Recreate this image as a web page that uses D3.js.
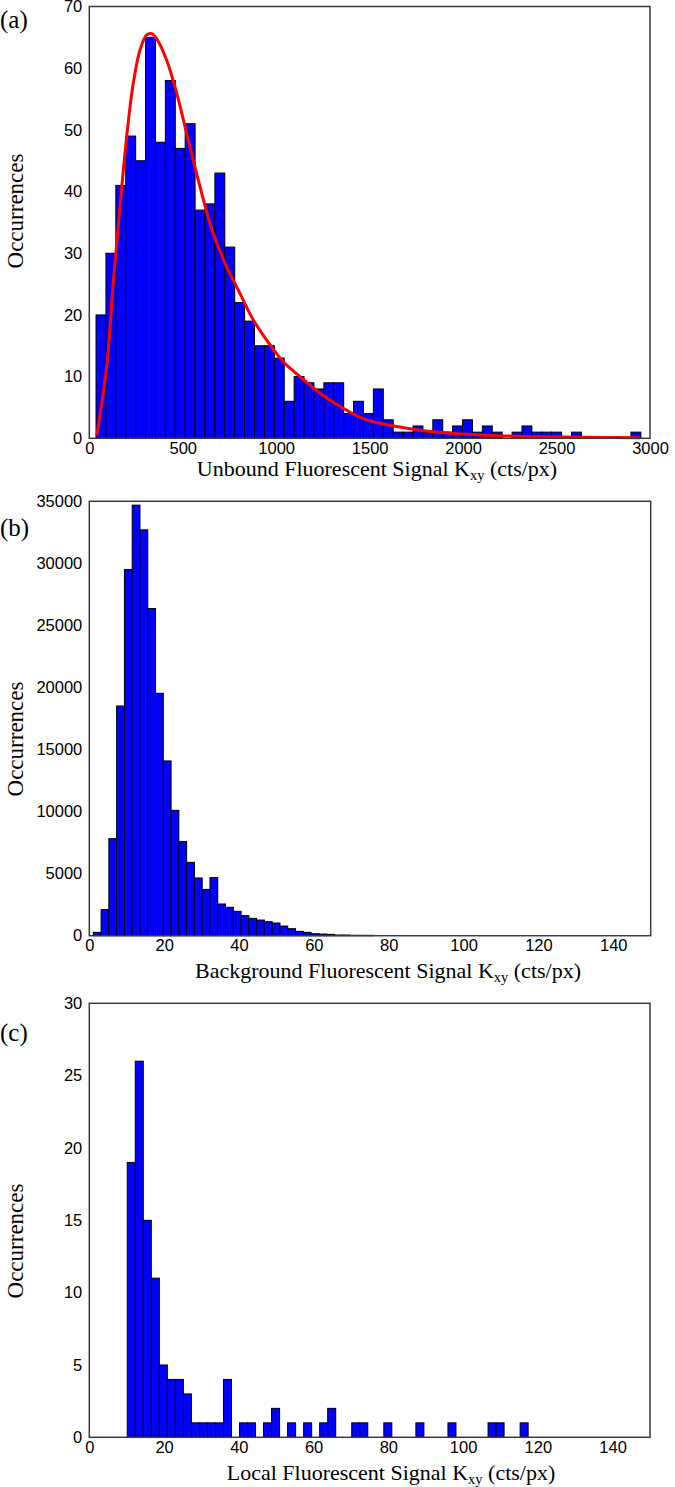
<!DOCTYPE html>
<html>
<head>
<meta charset="utf-8">
<script src="https://cdn.jsdelivr.net/npm/d3@7"></script>
<style>
  html, body { margin: 0; padding: 0; background: #fff; }
  svg { display: block; }
  .tick text { font-family: "Liberation Sans", Arial, sans-serif; font-size: 16.5px; fill: #000; }
  .title { font-family: "Liberation Serif", "Times New Roman", serif; fill: #000; }
</style>
</head>
<body>
<svg id="chart" width="675" height="1487"></svg>
<script>
// ---------- Panel (a): Unbound fluorescent signal ----------
const aBinStart = 36;
const aBinWidth = 53;
const aCounts = [20, 30, 41, 49, 45, 65, 48, 58, 47, 51, 37, 38, 43, 31, 22, 19, 15, 15, 13, 6,
                 10, 9, 8, 9, 9, 4, 6, 4, 8, 3, 1, 1, 2, 1, 3, 1, 2, 3, 1, 2,
                 1, 0, 1, 2, 1, 1, 1, 0, 1, 0, 0, 0, 0, 0, 1];
const aFitX = [40, 93, 128, 164, 200, 235, 271, 307, 334, 360, 414, 468, 521, 592, 663, 735,
               806, 877, 949, 1038, 1127, 1234, 1341, 1466, 1645, 1823, 2002, 2180, 2358, 2537, 2750, 2946];
const aFitY = [0.5, 11.6, 25.1, 37.5, 48.9, 57.5, 62.9, 65.4, 65.6, 64.8, 61.3, 55.9, 49.4, 40.8, 33.2, 27.8,
               23.5, 19.2, 15.9, 12.4, 10.0, 7.3, 5.2, 3.2, 1.9, 1.1, 0.7, 0.43, 0.27, 0.2, 0.15, 0.1];
const aXTicks = [0, 500, 1000, 1500, 2000, 2500, 3000];
const aYTicks = [0, 10, 20, 30, 40, 50, 60, 70];

// ---------- Panel (b): Background fluorescent signal ----------
const bBinStart = 1.07;
const bBinWidth = 2.078;
const bCounts = [270, 2100, 7820, 18510, 29500, 34690, 32700, 26360, 19530, 14080, 10100, 7580, 5910, 4650,
                 3730, 4675, 2555, 2287, 1964, 1614, 1399, 1264, 1130, 1022, 780, 565, 350, 269, 161, 134,
                 108, 54, 54, 30, 30, 27];
const bXTicks = [0, 20, 40, 60, 80, 100, 120, 140];
const bYTicks = [0, 5000, 10000, 15000, 20000, 25000, 30000, 35000];

// ---------- Panel (c): Local fluorescent signal ----------
const cBinStart = 10.15;
const cBinWidth = 2.145;
const cCounts = [19, 26, 15, 11, 5, 4, 4, 3, 1, 1, 1, 1, 4, 0, 1, 1, 0, 1, 2, 0,
                 1, 0, 1, 0, 1, 2, 0, 0, 1, 1, 0, 0, 1, 0, 0, 0, 1, 0, 0, 0,
                 1, 0, 0, 0, 0, 1, 1, 0, 0, 1];
const cXTicks = [0, 20, 40, 60, 80, 100, 120, 140];
const cYTicks = [0, 5, 10, 15, 20, 25, 30];

const svg = d3.select("#chart");

function panel(opts) {
  const { left, right, top, bottom, xDomain, yDomain, binStart, binWidth, counts,
          xTicks, yTicks, label, labelY, xTitle, xTitleX, xTitleY, yTitleY } = opts;
  const x = d3.scaleLinear().domain(xDomain).range([left, right]);
  const y = d3.scaleLinear().domain(yDomain).range([bottom, top]);
  const g = svg.append("g");

  const bins = counts.map((c, i) => ({ x0: binStart + i * binWidth, x1: binStart + (i + 1) * binWidth, c }))
                     .filter(d => d.c > 0);
  g.selectAll("rect.bar").data(bins).enter().append("rect")
    .attr("class", "bar")
    .attr("x", d => x(d.x0))
    .attr("width", d => x(d.x1) - x(d.x0))
    .attr("y", d => y(d.c))
    .attr("height", d => y(0) - y(d.c))
    .attr("fill", "#0000ff")
    .attr("stroke", "#000")
    .attr("stroke-width", 1);

  if (opts.fitX) {
    const pts = opts.fitX.map((v, i) => [v, opts.fitY[i]]);
    g.append("path")
      .datum(pts)
      .attr("fill", "none")
      .attr("stroke", "#ff0000")
      .attr("stroke-width", 3)
      .attr("d", d3.line().x(d => x(d[0])).y(d => y(d[1])).curve(d3.curveCatmullRom.alpha(0.5)));
  }

  // frame
  g.append("rect")
    .attr("x", left).attr("y", top)
    .attr("width", right - left).attr("height", bottom - top)
    .attr("fill", "none").attr("stroke", "#3a3a3a").attr("stroke-width", 1.5);

  const xa = g.append("g").attr("transform", `translate(0,${bottom})`)
    .call(d3.axisBottom(x).tickValues(xTicks).tickSize(0).tickPadding(4).tickFormat(d3.format("d")));
  xa.select(".domain").remove();
  const ya = g.append("g").attr("transform", `translate(${left},0)`)
    .call(d3.axisLeft(y).tickValues(yTicks).tickSize(0).tickPadding(7).tickFormat(d3.format("d")));
  ya.select(".domain").remove();

  svg.append("text").attr("class", "title")
    .attr("x", 0).attr("y", labelY)
    .attr("font-size", 25)
    .text(label);

  const xt = svg.append("text").attr("class", "title")
    .attr("x", xTitleX).attr("y", xTitleY)
    .attr("text-anchor", "middle")
    .attr("font-size", 22);
  xt.append("tspan").text(xTitle + " K");
  xt.append("tspan").attr("font-size", 14.5).attr("dy", 4).text("xy");
  xt.append("tspan").attr("dy", -4).text(" (cts/px)");

  svg.append("text").attr("class", "title")
    .attr("transform", `translate(23,${yTitleY}) rotate(-90)`)
    .attr("text-anchor", "middle")
    .attr("font-size", 23)
    .text("Occurrences");
}

panel({ left: 89.3, right: 650, top: 6.5, bottom: 438.3, xDomain: [0, 3000], yDomain: [0, 70],
        binStart: aBinStart, binWidth: aBinWidth, counts: aCounts, fitX: aFitX, fitY: aFitY,
        xTicks: aXTicks, yTicks: aYTicks, label: "(a)", labelY: 28,
        xTitle: "Unbound Fluorescent Signal", xTitleX: 377, xTitleY: 476, yTitleY: 211 });

panel({ left: 89.3, right: 650.7, top: 501.3, bottom: 935.7, xDomain: [0, 150], yDomain: [0, 35000],
        binStart: bBinStart, binWidth: bBinWidth, counts: bCounts,
        xTicks: bXTicks, yTicks: bYTicks, label: "(b)", labelY: 536,
        xTitle: "Background Fluorescent Signal", xTitleX: 388, xTitleY: 978, yTitleY: 739 });

panel({ left: 89.3, right: 650, top: 1003.3, bottom: 1437.3, xDomain: [0, 150], yDomain: [0, 30],
        binStart: cBinStart, binWidth: cBinWidth, counts: cCounts,
        xTicks: cXTicks, yTicks: cYTicks, label: "(c)", labelY: 1041,
        xTitle: "Local Fluorescent Signal", xTitleX: 391, xTitleY: 1480, yTitleY: 1241 });
</script>
</body>
</html>
